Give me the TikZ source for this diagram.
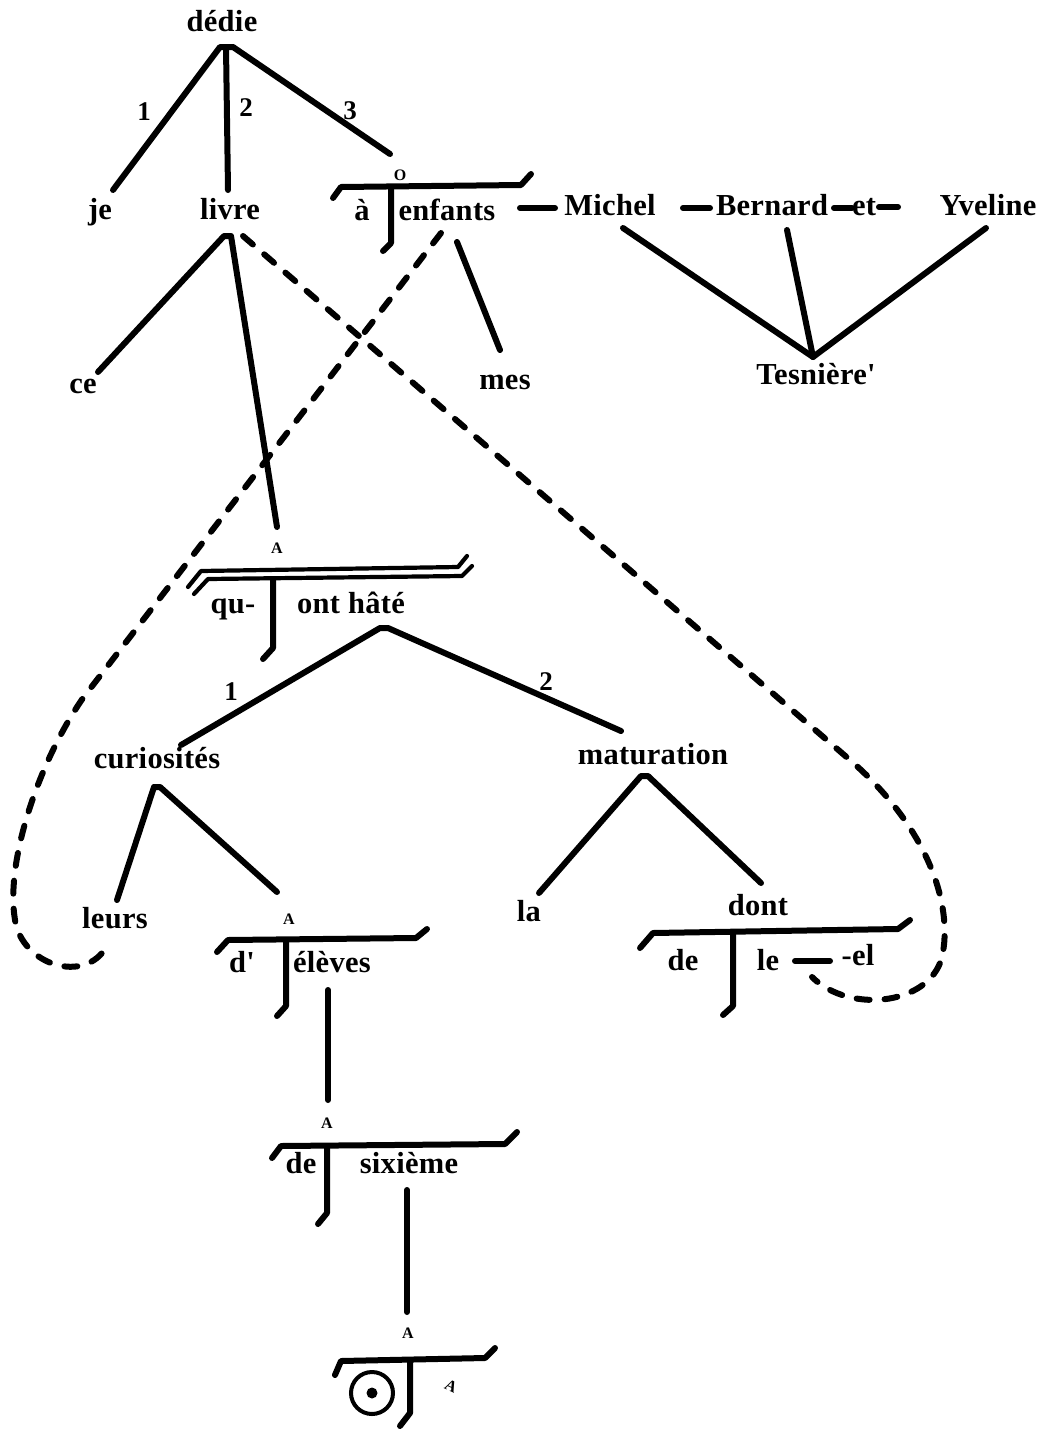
\documentclass[tikz,border=0pt]{standalone}
\usepackage{fontspec}
\setmainfont{Liberation Serif}
\newfontfamily\wordfont[LetterSpace=1]{Liberation Serif}
\begin{document}
\begin{tikzpicture}[x=1pt,y=-1pt,
  word/.style={font=\wordfont\bfseries\fontsize{30.5}{32}\selectfont, anchor=base, inner sep=0pt},
  sm/.style={font=\wordfont\bfseries\fontsize{16}{16}\selectfont, inner sep=0pt},
  num/.style={font=\wordfont\bfseries\fontsize{27}{27}\selectfont, inner sep=0pt},
  ln/.style={line width=6pt, line cap=round, line join=round},
  dbl/.style={line width=4.2pt, line cap=round, line join=round},
  dsh/.style={line width=6pt, line cap=round, dash pattern=on 13pt off 15pt}]
\useasboundingbox (0,0) rectangle (1053,1430);

% words
\node[word] (dedie) at (222,31) {dédie};
\node[word] (je) at (100,219) {je};
\node[word] (livre) at (230,219) {livre};
\node[word] (a) at (362,220) {à};
\node[word] (enfants) at (447,220) {enfants};
\node[word] (michel) at (610,215) {Michel};
\node[word] (bernard) at (772,215) {Bernard};
\node[word] (et) at (864,215) {et};
\node[word] (yveline) at (988,215) {Yveline};
\node[word] (ce) at (83,393) {ce};
\node[word] (mes) at (505,389) {mes};
\node[word] (tesniere) at (816,384) {Tesnière'};
\node[word] (qu) at (233,613) {qu-};
\node[word] (hate) at (351,613) {ont hâté};
\node[word] (curio) at (157,768) {curiosités};
\node[word] (matur) at (653,764) {maturation};
\node[word] (leurs) at (115,928) {leurs};
\node[word] (la) at (529,921) {la};
\node[word] (dont) at (758,915) {dont};
\node[word] (dp) at (242,972) {d'};
\node[word] (eleves) at (332,972) {élèves};
\node[word] (deA) at (683,970) {de};
\node[word] (le) at (768,970) {le};
\node[word] (el) at (858,965) {-el};
\node[word] (deB) at (301,1173) {de};
\node[word] (sixieme) at (409,1173) {sixième};

% small translation labels
\node[sm] (O) at (400,175) {O};
\node[sm] (A1) at (277,548) {A};
\node[sm] (A2) at (289,919) {A};
\node[sm] (A3) at (327,1123) {A};
\node[sm] (A4) at (408,1333) {A};
\node[sm, rotate=-25] (mark) at (451,1386) {A};

% valency numbers
\node[num] (n1) at (144,112) {1};
\node[num] (n2) at (246,108) {2};
\node[num] (n3) at (350,111) {3};
\node[num] (n4) at (231,692) {1};
\node[num] (n5) at (546,682) {2};

% connection points
\coordinate (dedie-l) at (220,47);
\coordinate (dedie-m) at (226,47);
\coordinate (dedie-r) at (233,47);
\coordinate (je-t) at (113,190);
\coordinate (livre-t) at (228,190);
\coordinate (O-t) at (390,154);
\coordinate (livre-l) at (224,236);
\coordinate (livre-r) at (231,236);
\coordinate (ce-t) at (98,372);
\coordinate (A1-t) at (277,527);
\coordinate (enf-b) at (457,242);
\coordinate (mes-t) at (500,350);
\coordinate (michel-b) at (623,228);
\coordinate (bernard-b) at (787,230);
\coordinate (yveline-b) at (986,228);
\coordinate (tes-t) at (813,357);
\coordinate (hate-l) at (380,628);
\coordinate (hate-r) at (388,628);
\coordinate (curio-t) at (181,745);
\coordinate (matur-t) at (621,731);
\coordinate (curio-l) at (154,787);
\coordinate (curio-r) at (160,787);
\coordinate (leurs-t) at (117,900);
\coordinate (A2-t) at (277,892);
\coordinate (matur-l) at (641,776);
\coordinate (matur-r) at (648,776);
\coordinate (la-t) at (539,893);
\coordinate (dont-t) at (761,883);
\coordinate (eleves-b) at (328,990);
\coordinate (A3-t) at (328,1100);
\coordinate (sixieme-b) at (407,1190);
\coordinate (A4-t) at (407,1312);

% stemma lines
\draw[ln] (je-t) -- (dedie-l) -- (dedie-r) -- (O-t);
\draw[ln] (dedie-m) -- (livre-t);
\draw[ln] (ce-t) -- (livre-l) -- (livre-r) -- (A1-t);
\draw[ln] (enf-b) -- (mes-t);
\draw[ln] (michel-b) -- (tes-t) -- (yveline-b);
\draw[ln] (bernard-b) -- (tes-t);
\draw[ln] (curio-t) -- (hate-l) -- (hate-r) -- (matur-t);
\draw[ln] (leurs-t) -- (curio-l) -- (curio-r) -- (A2-t);
\draw[ln] (la-t) -- (matur-l) -- (matur-r) -- (dont-t);
\draw[ln] (eleves-b) -- (A3-t);
\draw[ln] (sixieme-b) -- (A4-t);

% junction dashes
\draw[ln] (520,208) -- (555,208);
\draw[ln] (683,208) -- (710,208);
\draw[ln] (834,208) -- (852,208);
\draw[ln] (879,207) -- (898,207);
\draw[ln] (795,961) -- (830,961);

% translation T's
\draw[ln] (333,198) -- (341,187) -- (521,185) -- (531,174);
\draw[ln] (391,187) -- (391,243) -- (383,251);

\draw[dbl] (188,587) -- (201,571) -- (458,567) -- (467,556);
\draw[dbl] (194,594) -- (208,579) -- (462,576) -- (472,566);
\draw[ln] (273,579) -- (273,648) -- (263,659);

\draw[ln] (217,952) -- (228,940) -- (416,938) -- (427,929);
\draw[ln] (286,940) -- (286,1006) -- (277,1016);

\draw[ln] (272,1158) -- (281,1146) -- (505,1144) -- (517,1132);
\draw[ln] (327,1146) -- (327,1213) -- (318,1224);

\draw[ln] (335,1375) -- (341,1361) -- (485,1358) -- (495,1348);
\draw[ln] (410,1361) -- (410,1413) -- (400,1426);
\node[circle, draw, line width=4pt, minimum size=42pt, inner sep=0pt] (zero) at (372,1393) {};
\node[circle, fill, minimum size=11pt, inner sep=0pt] (zerodot) at (372,1393) {};

\draw[ln] (640,948) -- (653,933) -- (898,929) -- (910,920);
\draw[ln] (733,933) -- (733,1006) -- (723,1015);

% anaphoric dashed links
\draw[dsh] (243,236) -- (850,760) .. controls (925,825) and (952,900) .. (943,952)
  .. controls (935,1005) and (850,1015) .. (812,977);
\draw[dsh] (441,233) -- (83,698) .. controls (40,760) and (5,860) .. (15,920)
  .. controls (22,965) and (85,985) .. (107,946);
\end{tikzpicture}
\end{document}
